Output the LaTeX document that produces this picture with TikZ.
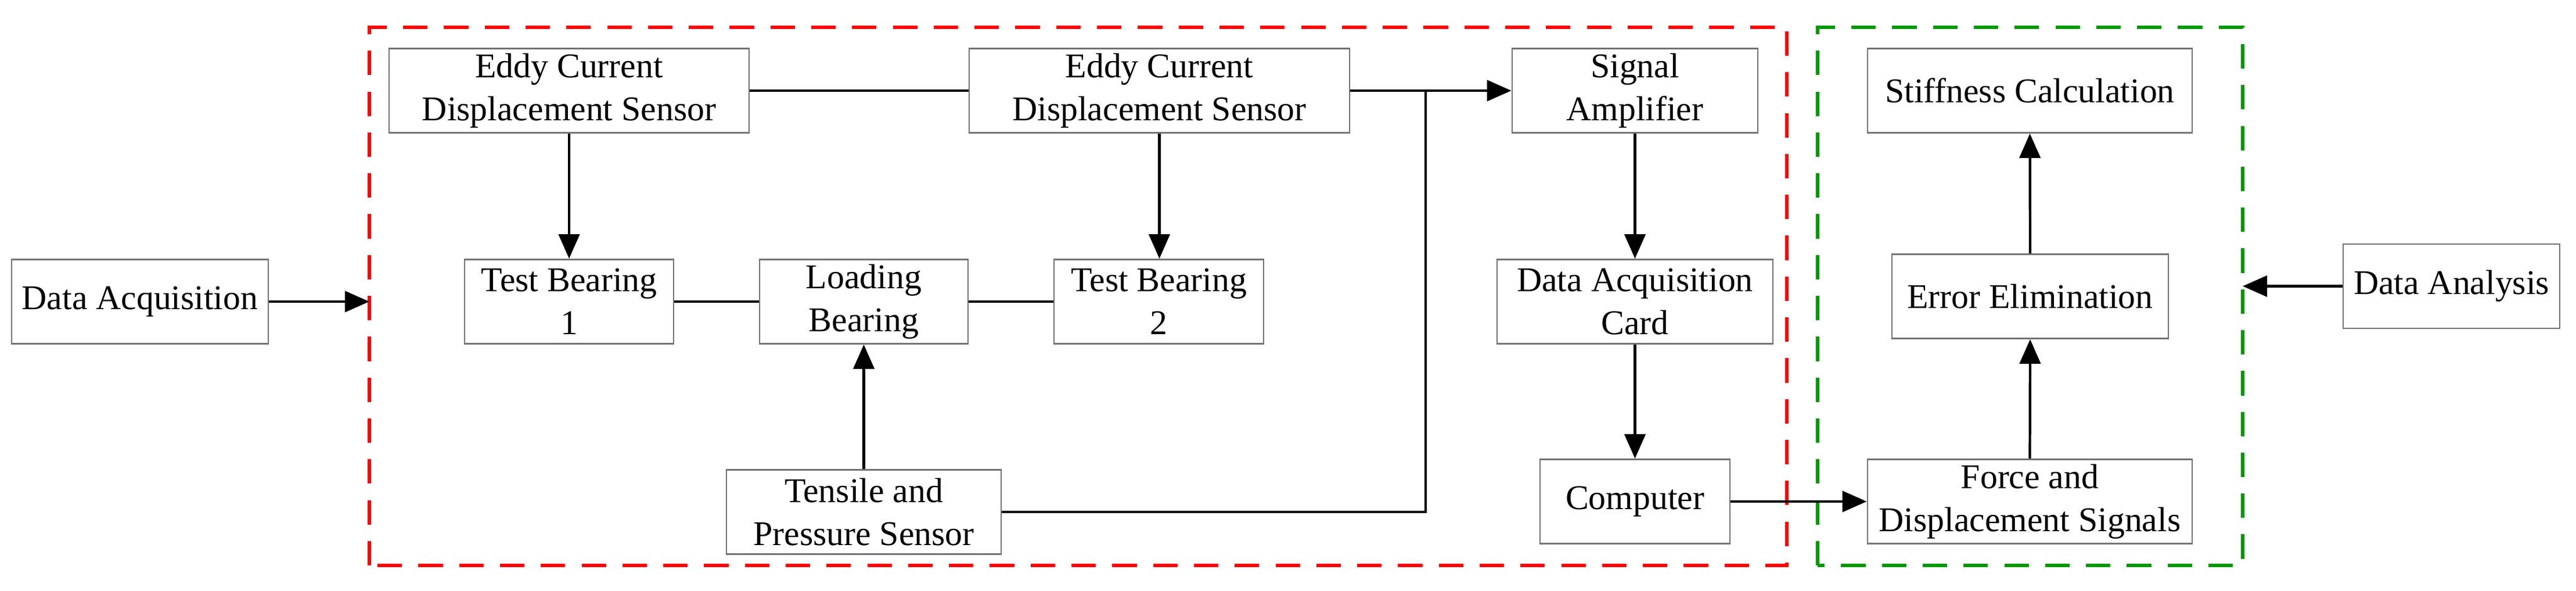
\documentclass[tikz,border=0pt]{standalone}
\usepackage{fontspec}
\setmainfont{Liberation Serif}
\usetikzlibrary{arrows.meta}
\begin{document}
\begin{tikzpicture}[
	box/.style={draw=black!55, line width=0.8pt, minimum height=1.45cm, align=center,
		font=\fontsize{17}{21}\selectfont, inner sep=2pt},
	link/.style={line width=1.2pt},
	flow/.style={line width=1.2pt, -{Triangle[length=0.42cm, width=0.36cm]}}
	]
	\useasboundingbox (0,0) rectangle (44.36,10.17);

	% frames
	\draw[red, line width=1.6pt, dash pattern=on 12pt off 8pt] (6.36,0.44) rectangle (30.77,9.70);
	\draw[green!60!black, line width=1.6pt, dash pattern=on 12pt off 8pt] (31.30,0.44) rectangle (38.62,9.70);
	\coordinate (redW) at (6.36,4.98);
	\coordinate (greenE) at (38.62,4.93);
	\coordinate (jn) at (24.55,8.61);

	% measuring side
	\node[box, minimum width=4.42cm] (daq) at (2.41,4.98) {Data Acquisition};
	\node[box, minimum width=6.2cm] (eddyA) at (9.80,8.61) {Eddy Current\\Displacement Sensor};
	\node[box, minimum width=6.55cm] (eddyB) at (19.965,8.61) {Eddy Current\\Displacement Sensor};
	\node[box, minimum width=3.6cm] (testA) at (9.80,4.98) {Test Bearing\\1};
	\node[box, minimum width=3.59cm] (load) at (14.875,4.98) {Loading\\Bearing};
	\node[box, minimum width=3.61cm] (testB) at (19.955,4.98) {Test Bearing\\2};
	\node[box, minimum width=4.73cm] (tens) at (14.875,1.36) {Tensile and\\Pressure Sensor};
	\node[box, minimum width=4.23cm] (amp) at (28.155,8.61) {Signal\\Amplifier};
	\node[box, minimum width=4.75cm] (card) at (28.155,4.98) {Data Acquisition\\Card};
	\node[box, minimum width=3.27cm] (comp) at (28.155,1.54) {Computer};

	% analysis side
	\node[box, minimum width=5.59cm] (stiff) at (34.955,8.61) {Stiffness Calculation};
	\node[box, minimum width=4.76cm] (err) at (34.96,5.07) {Error Elimination};
	\node[box, minimum width=5.59cm] (sig) at (34.955,1.54) {Force and\\Displacement Signals};
	\node[box, minimum width=3.73cm] (ana) at (42.215,5.245) {Data Analysis};

	% connectors
	\draw[flow] (daq.east) -- (redW);
	\draw[flow] (ana.west) -- (ana.west -| greenE);
	\draw[link] (eddyA.east) -- (eddyB.west);
	\draw[flow] (eddyB.east) -- (amp.west);
	\draw[link] (tens.east) -| (jn);
	\draw[link] (testA.east) -- (load.west);
	\draw[link] (load.east) -- (testB.west);
	\draw[flow] (eddyA.south) -- (testA.north);
	\draw[flow] (eddyB.south) -- (eddyB.south |- testB.north);
	\draw[flow] (tens.north) -- (load.south);
	\draw[flow] (amp.south) -- (card.north);
	\draw[flow] (card.south) -- (comp.north);
	\draw[flow] (comp.east) -- (sig.west);
	\draw[flow] (sig.north) -- (err.south);
	\draw[flow] (err.north) -- (stiff.south);
\end{tikzpicture}
\end{document}
